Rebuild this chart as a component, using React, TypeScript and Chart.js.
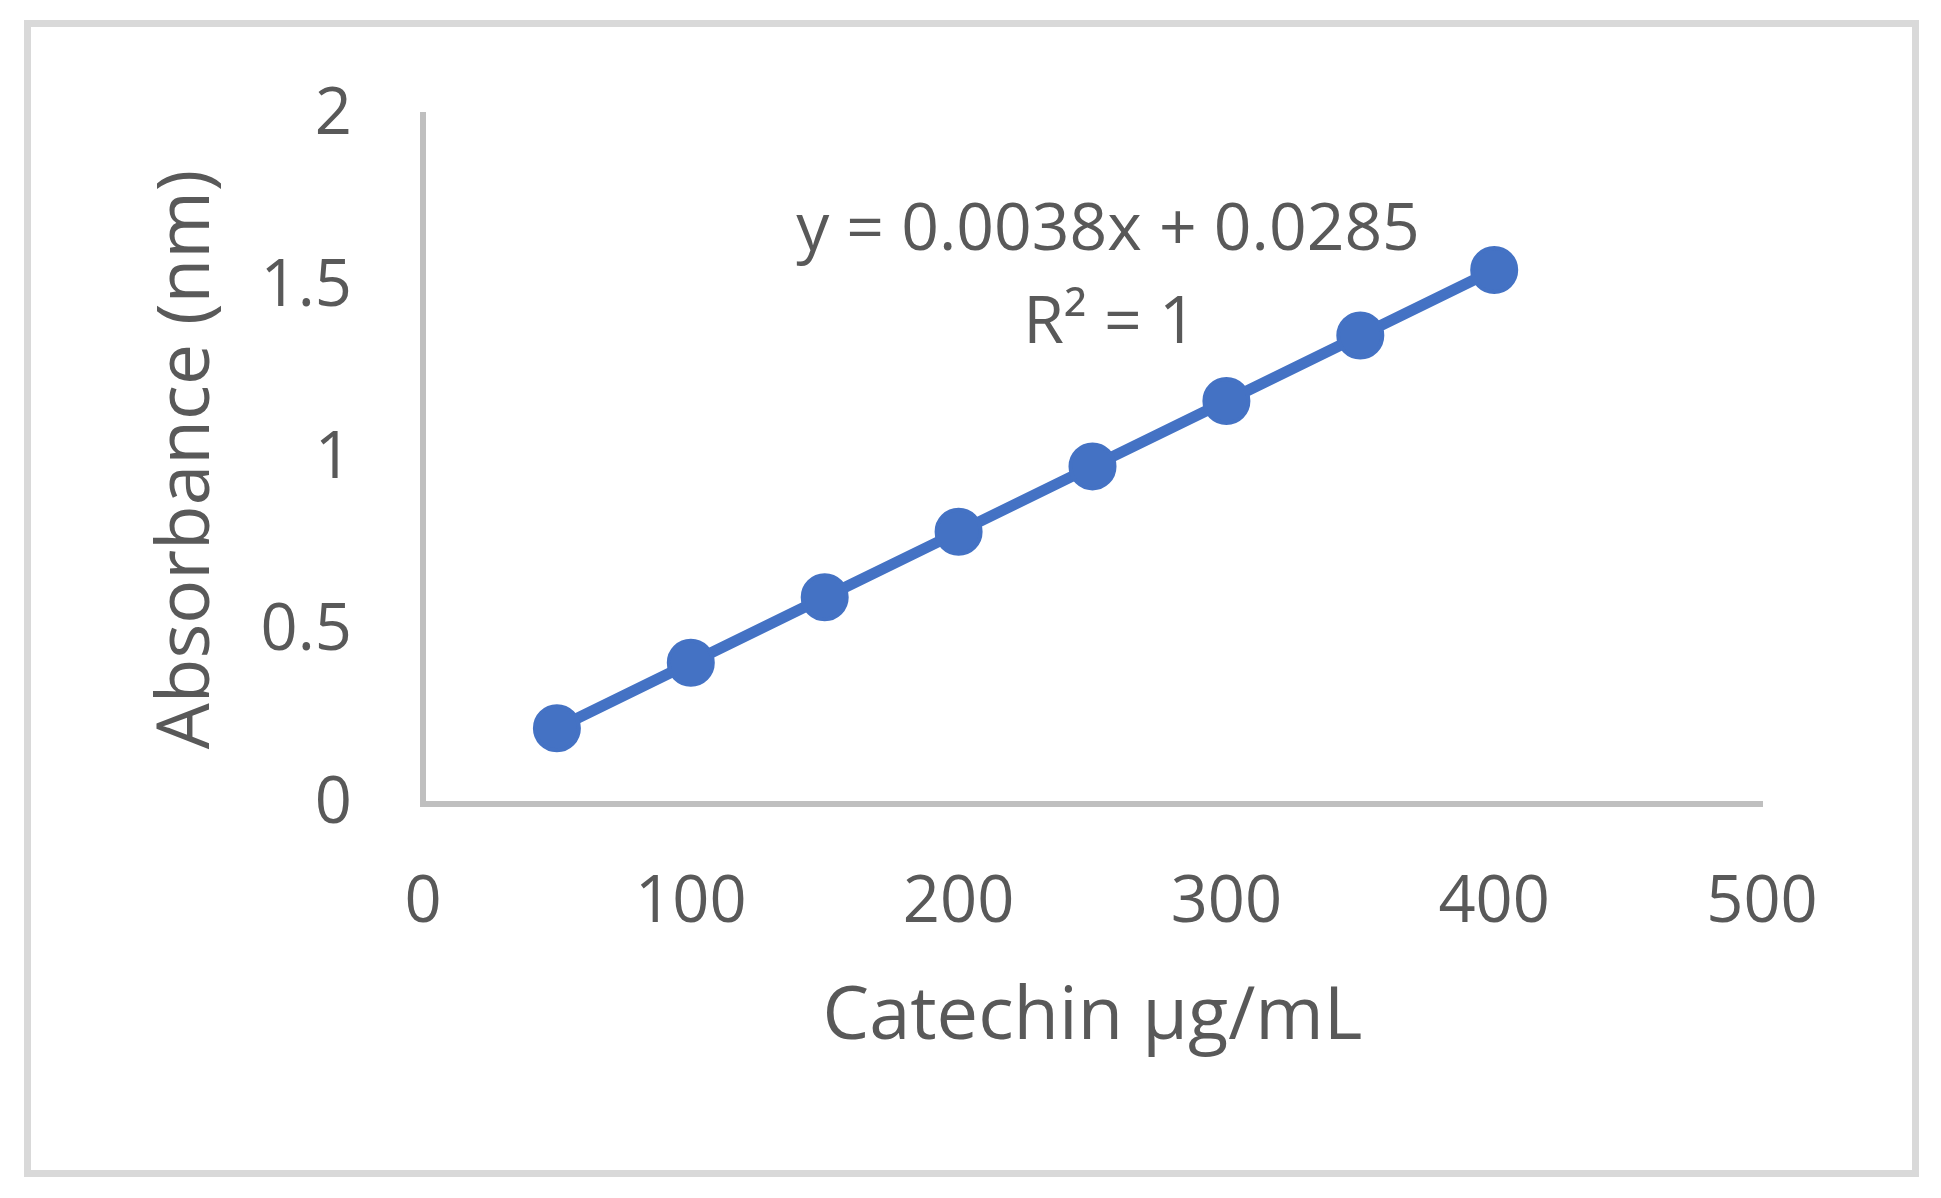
import React, { useEffect, useRef } from 'react';
import { Chart, registerables } from 'chart.js';

Chart.register(...registerables);

const catechinConc = [50, 100, 150, 200, 250, 300, 350, 400];
const absorbance = [0.22, 0.41, 0.6, 0.79, 0.98, 1.17, 1.36, 1.55];
const equationLines = ['y = 0.0038x + 0.0285', 'R² = 1'];

const TEXT = '#595959';
const FONT = '"Open Sans", sans-serif';

// frame around the whole figure + the trendline equation
const decorPlugin = {
  id: 'decor',
  beforeDraw(chart: any) {
    const { ctx } = chart;
    ctx.save();
    ctx.fillStyle = '#ffffff';
    ctx.fillRect(0, 0, chart.width, chart.height);
    ctx.strokeStyle = '#d9d9d9';
    ctx.lineWidth = 7;
    ctx.strokeRect(27.5, 23.5, 1888, 1150);
    ctx.restore();
  },
  afterDraw(chart: any) {
    const { ctx } = chart;
    ctx.save();
    ctx.fillStyle = TEXT;
    ctx.font = `66px ${FONT}`;
    ctx.textAlign = 'center';
    ctx.textBaseline = 'alphabetic';
    ctx.fillText(equationLines[0], 1108, 250);
    ctx.fillText(equationLines[1], 1110, 343);
    ctx.restore();
  },
};

const App = () => {
  const canvasRef = useRef<HTMLCanvasElement>(null);

  useEffect(() => {
    const canvas = canvasRef.current;
    let chart: Chart | null = null;

    if (canvas) {
      chart = new Chart(canvas, {
        type: 'scatter',
        data: {
          datasets: [
            {
              label: 'Catechin',
              data: catechinConc.map((x, i) => ({ x, y: absorbance[i] })),
              showLine: true,
              borderColor: '#4472c4',
              backgroundColor: '#4472c4',
              borderWidth: 11,
              pointRadius: 22,
              pointBorderWidth: 4,
              pointHoverRadius: 22,
            },
          ],
        },
        options: {
          animation: false,
          responsive: true,
          maintainAspectRatio: false,
          devicePixelRatio: 1,
          layout: { padding: { left: 0, top: 115, right: 179, bottom: 0 } },
          plugins: {
            legend: { display: false },
            tooltip: { enabled: false },
          },
          scales: {
            x: {
              type: 'linear',
              min: 0,
              max: 500,
              afterFit: (scale: any) => {
                scale.height = 394;
              },
              ticks: {
                stepSize: 100,
                padding: 60,
                color: TEXT,
                font: { family: FONT, size: 65 },
              },
              grid: { display: false, drawTicks: false },
              border: { display: true, color: '#bfbfbf', width: 6 },
              title: {
                display: true,
                text: 'Catechin µg/mL',
                color: TEXT,
                font: { family: FONT, size: 74 },
                padding: { top: 0, bottom: 136 },
              },
            },
            y: {
              type: 'linear',
              min: 0,
              max: 2,
              afterFit: (scale: any) => {
                scale.width = 423;
              },
              ticks: {
                stepSize: 0.5,
                padding: 71,
                color: TEXT,
                font: { family: FONT, size: 65 },
                callback: (value: any) => String(Number(value)),
              },
              grid: { display: false, drawTicks: false },
              border: { display: true, color: '#bfbfbf', width: 6 },
              title: {
                display: true,
                text: 'Absorbance (nm)',
                color: TEXT,
                font: { family: FONT, size: 73 },
                padding: { top: 144, bottom: 0 },
              },
            },
          },
        },
        plugins: [decorPlugin],
      });
    }

    return () => {
      if (chart) {
        chart.destroy();
      }
    };
  }, []);

  return (
    <div
      style={{
        position: 'fixed',
        left: 0,
        top: 0,
        width: 1941,
        height: 1198,
        background: '#ffffff',
      }}
    >
      <canvas ref={canvasRef}></canvas>
    </div>
  );
};

export default App;
